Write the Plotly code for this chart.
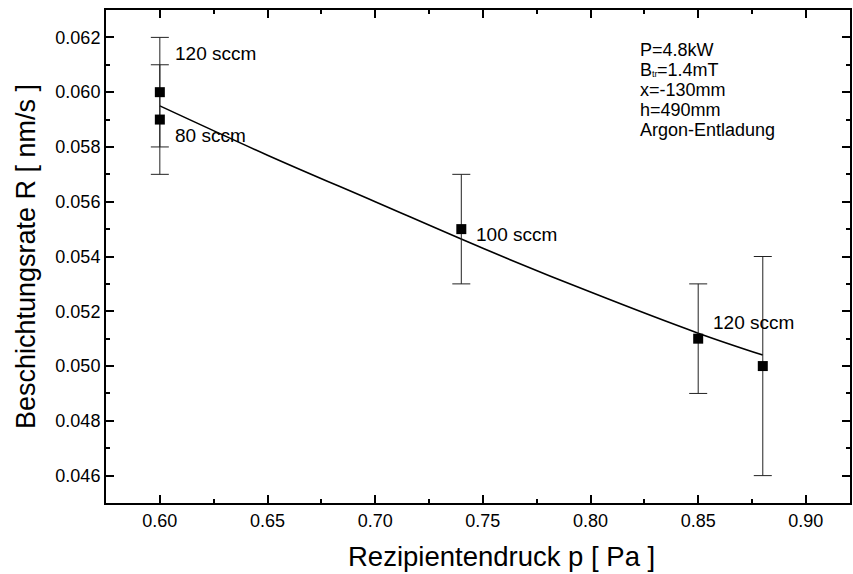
import plotly.graph_objects as go

# Data
pressure = [0.60, 0.60, 0.74, 0.85, 0.88]
rate = [0.060, 0.059, 0.055, 0.051, 0.050]
rate_err = [0.002, 0.002, 0.002, 0.002, 0.004]

fit_x = [0.60, 0.65, 0.70, 0.75, 0.80, 0.85, 0.88]
fit_y = [0.0595, 0.0577, 0.0560, 0.0543, 0.0527, 0.0512, 0.0504]

label_texts = ["120 sccm", "80 sccm", "100 sccm", "120 sccm"]
label_x = [0.606, 0.606, 0.746, 0.856]
label_y = [0.0614, 0.0584, 0.0548, 0.0516]

info_lines = ["P=4.8kW", "B", "x=-130mm", "h=490mm", "Argon-Entladung"]
info_sub = "tr"
info_sub_rest = "=1.4mT"

x_ticks = [0.60, 0.65, 0.70, 0.75, 0.80, 0.85, 0.90]
y_ticks = [0.046, 0.048, 0.050, 0.052, 0.054, 0.056, 0.058, 0.060, 0.062]

x_title = "Rezipientendruck p [ Pa ]"
y_title = "Beschichtungsrate R [ nm/s ]"

FONT = "Liberation Sans, Arial, sans-serif"

fig = go.Figure()
fig.add_trace(go.Scatter(
    x=fit_x, y=fit_y, mode="lines", line=dict(color="black", width=1.6, shape="spline"),
    showlegend=False, hoverinfo="skip"))
fig.add_trace(go.Scatter(
    x=pressure, y=rate, mode="markers",
    marker=dict(symbol="square", size=10, color="black"),
    error_y=dict(type="data", array=rate_err, visible=True, color="#222", thickness=1, width=9),
    showlegend=False))

for t, x, y in zip(label_texts, label_x, label_y):
    fig.add_annotation(x=x, y=y, text=t, showarrow=False, xanchor="left", yanchor="middle",
                       font=dict(family=FONT, size=19, color="black"))

INFO_X = 0.715
INFO_Y0 = 0.9185
INFO_DY = 0.0405
for i, t in enumerate(info_lines):
    fig.add_annotation(xref="paper", yref="paper", x=INFO_X, y=INFO_Y0 - i * INFO_DY,
                       text=t, showarrow=False, xanchor="left", yanchor="middle",
                       font=dict(family=FONT, size=18, color="black"))
# subscript "tr" and rest of the B_tr line
fig.add_annotation(xref="paper", yref="paper", x=INFO_X, y=INFO_Y0 - INFO_DY,
                   xshift=12, yshift=-4, text=info_sub, showarrow=False,
                   xanchor="left", yanchor="middle", font=dict(family=FONT, size=9, color="black"))
fig.add_annotation(xref="paper", yref="paper", x=INFO_X, y=INFO_Y0 - INFO_DY,
                   xshift=17, text=info_sub_rest, showarrow=False,
                   xanchor="left", yanchor="middle", font=dict(family=FONT, size=18, color="black"))

# x-axis title (offset to the right as in the reference)
fig.add_annotation(xref="paper", yref="paper", x=0.532, y=-0.108, text=x_title,
                   showarrow=False, xanchor="center", yanchor="middle",
                   font=dict(family=FONT, size=27.5, color="black"))

axis_common = dict(
    showline=True, linecolor="black", linewidth=2, mirror="ticks",
    ticks="inside", ticklen=8, tickwidth=1.5, tickcolor="black",
    showgrid=False, zeroline=False,
    tickfont=dict(family=FONT, size=18, color="black"),
)

fig.update_xaxes(range=[0.575, 0.9205], tickvals=x_ticks, ticktext=[f"{v:.2f}" for v in x_ticks],
                 minor=dict(ticks="inside", ticklen=4, tickcolor="black", dtick=0.025, tick0=0.575),
                 **axis_common)
fig.update_yaxes(range=[0.045, 0.063], tickvals=y_ticks, ticktext=[f"{v:.3f}" for v in y_ticks],
                 minor=dict(ticks="inside", ticklen=4, tickcolor="black", dtick=0.001, tick0=0.045),
                 title=dict(text=y_title, font=dict(family=FONT, size=27, color="black"), standoff=12),
                 **axis_common)

fig.update_layout(
    width=853, height=574,
    margin=dict(l=106, r=1, t=10, b=71),
    plot_bgcolor="white", paper_bgcolor="white",
    font=dict(family=FONT, color="black"),
)

fig.write_html("out.html")
